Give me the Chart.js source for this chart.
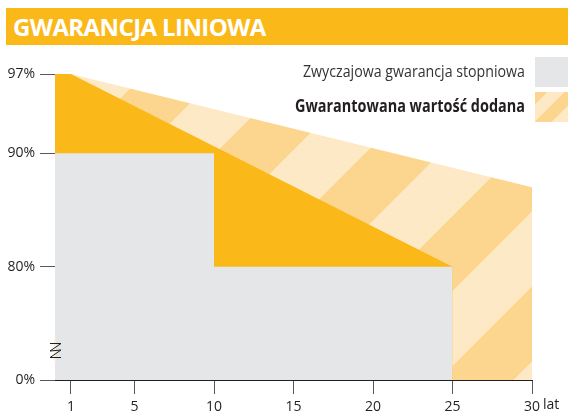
<!DOCTYPE html>
<html>
<head>
<meta charset="utf-8">
<script src="https://cdn.jsdelivr.net/npm/chart.js@4"></script>
<style>
    html, body { margin: 0; padding: 0; background: #fff; }
    #wrap { position: relative; width: 568px; height: 412px; overflow: hidden; }
    #title {
        position: absolute; left: 6px; top: 8px; width: 562px; height: 37px;
        background: #fbb819; color: #fff;
        font: bold 24px "Open Sans", sans-serif; line-height: 37px;
        padding-left: 7px; box-sizing: border-box; letter-spacing: -0.6px;
    }
    #chartLine { position: absolute; left: 0; top: 0; }
</style>
</head>
<body>
<div id="wrap">
    <canvas id="chartLine" width="568" height="412"></canvas>
    <div id="title">GWARANCJA LINIOWA</div>
</div>
<script>
// Gwarancja liniowa

var seriesLabels = ['Zwyczajowa gwarancja stopniowa', 'Gwarantowana wartość dodana'];

// zwyczajowa gwarancja stopniowa (lata / %)
var stepYears = [0, 10, 10, 25];
var stepValues = [90, 90, 80, 80];

// gwarancja liniowa
var linearYears = [0, 1, 25];
var linearValues = [97, 97, 80];

// górna granica wartości dodanej
var addedYears = [0, 1, 30];
var addedValues = [97, 97, 87];

// oś Y jest przerwana: 0% rysujemy na poziomie 70
var yTicks = [70, 80, 90, 97];
var yTickLabels = ['0%', '80%', '90%', '97%'];
var xTicks = [1, 5, 10, 15, 20, 25, 30];
var xUnit = 'lat';

var GREY = '#e5e6e7';
var ORANGE = '#fbb819';
var STRIPE_DARK = [252, 214, 142];
var STRIPE_LIGHT = [253, 233, 198];

function stripePattern(ctx, period, offset) {
    var c = document.createElement('canvas');
    c.width = period;
    c.height = period;
    var g = c.getContext('2d');
    var img = g.createImageData(period, period);
    for (var y = 0; y < period; y++) {
        for (var x = 0; x < period; x++) {
            var d = (((x + y - offset) % period) + period) % period;
            var col = d < period / 2 ? STRIPE_DARK : STRIPE_LIGHT;
            var i = (y * period + x) * 4;
            img.data[i] = col[0];
            img.data[i + 1] = col[1];
            img.data[i + 2] = col[2];
            img.data[i + 3] = 255;
        }
    }
    g.putImageData(img, 0, 0);
    return ctx.createPattern(c, 'repeat');
}

function toPoints(xs, ys) {
    return xs.map(function (x, i) { return { x: x, y: ys[i] }; });
}

// tekst dociśnięty do prawej, ściśnięty do zadanej szerokości
function narrowText(c, text, right, y, width) {
    var w = c.measureText(text).width;
    c.save();
    c.translate(right, y);
    c.scale(Math.min(1, width / w), 1);
    c.textAlign = 'right';
    c.fillText(text, 0, 0);
    c.restore();
}

var ctx = document.getElementById('chartLine').getContext('2d');
var hatch = stripePattern(ctx, 150, 68);
var legendHatch = stripePattern(ctx, 34, 10);

var fontMain = '"Open Sans", sans-serif';

// legenda po prawej u góry
var legendPlugin = {
    id: 'sideLegend',
    afterDraw: function (chart) {
        var c = chart.ctx;
        c.save();
        c.fillStyle = GREY;
        c.fillRect(535, 57, 33, 30);
        c.fillStyle = legendHatch;
        c.fillRect(535, 92, 33, 30);

        c.textBaseline = 'middle';
        c.fillStyle = '#333333';
        c.font = '17px ' + fontMain;
        narrowText(c, chart.data.datasets[0].label, 525, 72, 222);
        c.fillStyle = '#231f20';
        c.font = 'bold 17px ' + fontMain;
        narrowText(c, chart.data.datasets[2].label, 525, 107, 230);
        c.restore();
    }
};

// przerwa na osi Y i jednostka osi X
var axisPlugin = {
    id: 'axisExtras',
    afterDraw: function (chart) {
        var c = chart.ctx;
        var left = chart.chartArea.left;
        c.save();
        c.fillStyle = '#ffffff';
        c.fillRect(left - 2, 339, 3, 23);
        c.fillStyle = '#f3e2b0';
        c.fillRect(left - 0.5, 339, 1, 23);

        c.strokeStyle = '#231f20';
        c.lineWidth = 1;
        c.beginPath();
        c.moveTo(left - 5, 343.5);
        c.lineTo(left + 6, 343.5);
        c.lineTo(left - 5, 351);
        c.lineTo(left + 6, 350);
        c.lineTo(left - 5, 357.5);
        c.lineTo(left + 6, 357.5);
        c.stroke();

        var xs = chart.scales.x;
        c.font = '14px ' + fontMain;
        c.fillStyle = '#231f20';
        c.textAlign = 'left';
        c.textBaseline = 'top';
        var last = xTicks[xTicks.length - 1];
        var px = xs.getPixelForValue(last) + c.measureText(String(last)).width / 2 + 3;
        c.fillText(xUnit, px, xs.top + 14 + 4);
        c.restore();
    }
};

var chart = new Chart(ctx, {
    type: 'line',
    data: {
        datasets: [{
            label: seriesLabels[0],
            data: toPoints(stepYears, stepValues),
            backgroundColor: GREY,
            borderWidth: 0,
            pointRadius: 0,
            fill: 'start'
        }, {
            label: 'liniowa',
            data: toPoints(linearYears, linearValues),
            backgroundColor: ORANGE,
            borderWidth: 0,
            pointRadius: 0,
            fill: 'start'
        }, {
            label: seriesLabels[1],
            data: toPoints(addedYears, addedValues),
            backgroundColor: hatch,
            borderWidth: 0,
            pointRadius: 0,
            fill: 'start'
        }]
    },
    options: {
        responsive: false,
        animation: false,
        layout: { padding: { left: 0, right: 36, top: 74, bottom: 0 } },
        plugins: {
            legend: { display: false },
            tooltip: { enabled: false }
        },
        scales: {
            x: {
                type: 'linear',
                min: 0,
                max: 30,
                afterBuildTicks: function (scale) {
                    scale.ticks = xTicks.map(function (v) { return { value: v }; });
                },
                afterFit: function (scale) { scale.height = 32; },
                ticks: {
                    autoSkip: false,
                    maxRotation: 0,
                    padding: 5,
                    color: '#231f20',
                    font: { family: fontMain, size: 14 },
                    callback: function (v) { return String(v); }
                },
                grid: {
                    drawOnChartArea: false,
                    drawTicks: true,
                    tickLength: 14,
                    color: '#58595b'
                },
                border: { display: true, color: '#231f20', width: 1 }
            },
            y: {
                type: 'linear',
                min: 70,
                max: 97,
                afterBuildTicks: function (scale) {
                    scale.ticks = yTicks.map(function (v) { return { value: v }; });
                },
                afterFit: function (scale) { scale.width = 55; },
                ticks: {
                    autoSkip: false,
                    padding: 5,
                    color: '#231f20',
                    font: { family: fontMain, size: 14 },
                    callback: function (v, i) { return yTickLabels[i]; }
                },
                grid: {
                    drawOnChartArea: false,
                    drawTicks: true,
                    tickLength: 15,
                    color: '#58595b'
                },
                border: { display: true, color: '#231f20', width: 1 }
            }
        }
    },
    plugins: [legendPlugin, axisPlugin]
});
</script>
</body>
</html>
